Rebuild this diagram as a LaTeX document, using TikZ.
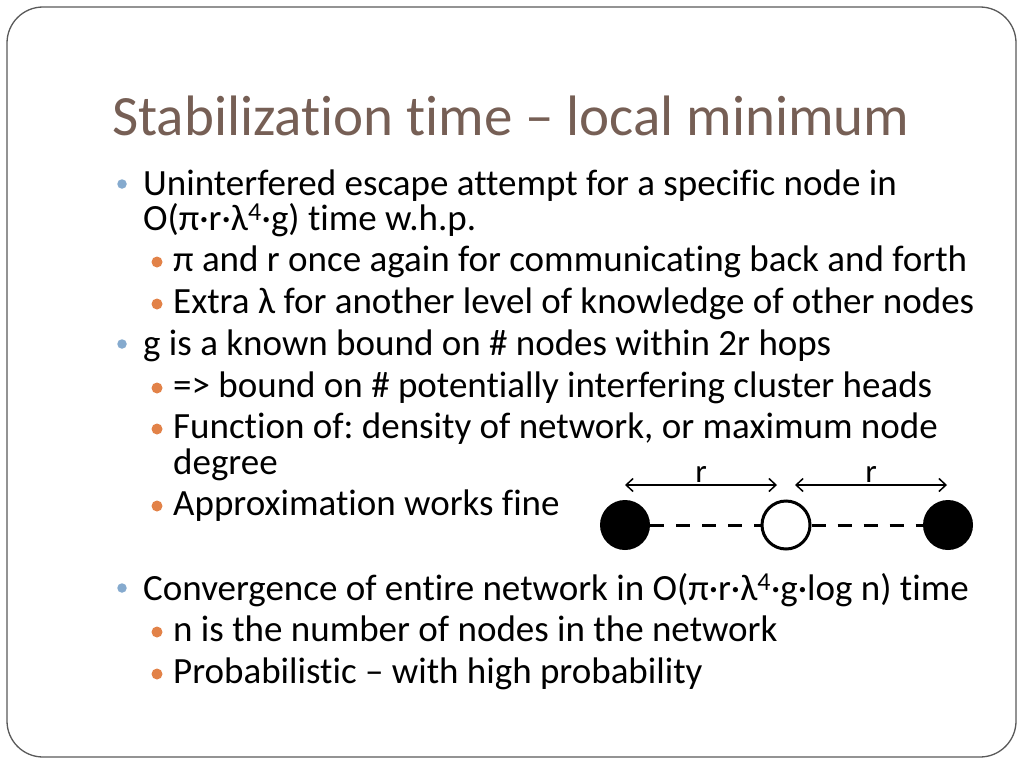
\documentclass[tikz,border=0pt]{standalone}
\usepackage{fontspec}
\setmainfont{Carlito}[RawFeature={-liga}]
\usetikzlibrary{arrows.meta}
\definecolor{ttlbrown}{RGB}{118,95,85}
\definecolor{bulblue}{RGB}{133,170,206}
\definecolor{bulorange}{RGB}{226,130,72}
\frenchspacing

\begin{document}
\begin{tikzpicture}[x=1pt,y=-1pt,
    frame/.style={draw=black!65,line width=1.3pt,rounded corners=36pt},
    ttl/.style={anchor=base west,inner sep=0pt,text=ttlbrown,font=\fontsize{57}{68}\selectfont},
    lvA/.style={anchor=base west,inner sep=0pt,font=\fontsize{37}{42}\selectfont},
    lvB/.style={anchor=base west,inner sep=0pt,font=\fontsize{37}{42}\selectfont},
    bulA/.style={circle,fill=bulblue,inner sep=0pt,minimum size=9.5pt},
    bulB/.style={circle,fill=bulorange,inner sep=0pt,minimum size=11pt},
    fulldot/.style={circle,fill=black,inner sep=0pt,minimum size=50pt},
    opendot/.style={circle,draw=black,fill=white,line width=3pt,inner sep=0pt,minimum size=48pt},
    gap/.style={line width=3pt,dash pattern=on 14pt off 12pt},
    dist/.style={line width=1.5pt,{Straight Barb[length=7pt,width=13pt]}-{Straight Barb[length=7pt,width=13pt]}},
    lbl/.style={font=\fontsize{33}{39}\selectfont,inner sep=2pt}]
  \useasboundingbox (0,0) rectangle (1024,768) ;
  \draw[frame] (7,7) rectangle (1016,757) ;
  \node[ttl] (title) at (112,135) {Stabilization time – local minimum} ;
  % first point
  \node[bulA] (b1) at (122,184) {} ;
  \node[lvA] (t1) at (143,195) {Uninterfered escape attempt for a specific node in} ;
  \node[lvA] (t1b) at (143,230) {O(π·r·λ\textsuperscript{4}·g) time w.h.p.} ;
  \node[bulB] (b2) at (157,262) {} ;
  \node[lvB] (t2) at (173,271) {π and r once again for communicating back and forth} ;
  \node[bulB] (b3) at (157,304) {} ;
  \node[lvB] (t3) at (173,313) {Extra λ for another level of knowledge of other nodes} ;
  % second point
  \node[bulA] (b4) at (122,344) {} ;
  \node[lvA] (t4) at (143,355) {g is a known bound on \# nodes within 2r hops} ;
  \node[bulB] (b5) at (157,388) {} ;
  \node[lvB] (t5) at (173,397) {=> bound on \# potentially interfering cluster heads} ;
  \node[bulB] (b6) at (157,429) {} ;
  \node[lvB] (t6) at (173,438) {Function of: density of network, or maximum node} ;
  \node[lvB] (t6b) at (173,474) {degree} ;
  \node[bulB] (b7) at (157,506) {} ;
  \node[lvB] (t7) at (173,515) {Approximation works fine} ;
  % third point
  \node[bulA] (b8) at (122,588) {} ;
  \node[lvA] (t8) at (143,600) {Convergence of entire network in O(π·r·λ\textsuperscript{4}·g·log n) time} ;
  \node[bulB] (b9) at (157,632) {} ;
  \node[lvB] (t9) at (173,641) {n is the number of nodes in the network} ;
  \node[bulB] (b10) at (157,674) {} ;
  \node[lvB] (t10) at (173,683) {Probabilistic – with high probability} ;
  % the three nodes
  \node[fulldot] (L) at (625,525) {} ;
  \node[opendot] (M) at (786,525) {} ;
  \node[fulldot] (R) at (948,525) {} ;
  \draw[gap] (L) -- (M) ;
  \draw[gap] (M) -- (R) ;
  \coordinate (a1) at (625,485) ;
  \coordinate (a2) at (777,485) ;
  \coordinate (a3) at (795,485) ;
  \coordinate (a4) at (947,485) ;
  \draw[dist] (a1) -- node[lbl,above] (r1) {r} (a2) ;
  \draw[dist] (a3) -- node[lbl,above] (r2) {r} (a4) ;
\end{tikzpicture}
\end{document}
